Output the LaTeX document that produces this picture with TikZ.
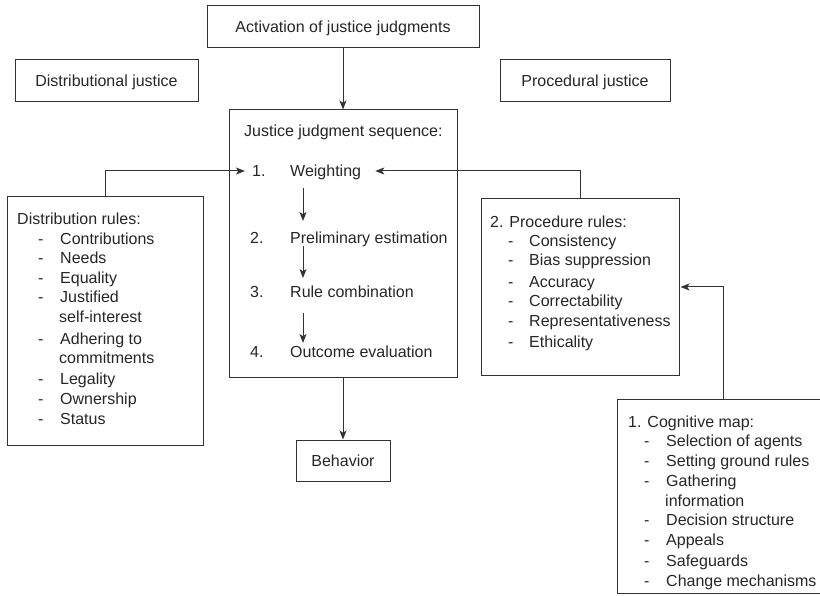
\documentclass[tikz,border=0pt]{standalone}
\usepackage{fontspec}
\setmainfont{Liberation Sans}
\usetikzlibrary{arrows.meta,fit}
\definecolor{ink}{HTML}{262626}
\definecolor{linec}{HTML}{333333}
\tikzset{
  box/.style={draw=linec, line width=1pt, inner sep=0pt},
  lbl/.style={font=\fontsize{16}{20}\selectfont, text=ink, anchor=west, inner sep=0pt, text height=12pt, text depth=1pt},
  cbox/.style={box, font=\fontsize{16}{20}\selectfont, text=ink, text height=12pt, text depth=1pt},
  arr/.style={draw=linec, line width=1pt, -{Stealth[length=9pt,width=7pt,inset=2.2pt]}},
}
\begin{document}
\begin{tikzpicture}[x=1pt,y=-1pt]
\useasboundingbox (0,0) rectangle (820,596);
% single-line boxes
\node[cbox, minimum width=272pt, minimum height=42pt] (act) at (343,27) {Activation of justice judgments};
\node[cbox, minimum width=183pt, minimum height=42pt] (distj) at (106.5,81) {Distributional justice};
\node[cbox, minimum width=170pt, minimum height=42pt] (procj) at (585,81) {Procedural justice};
\node[cbox, minimum width=94pt, minimum height=41pt] (beh) at (343,460.5) {Behavior};
% multi-line boxes
\node[box, fit={(229,110) (457,377)}] (seq) {};
\node[box, fit={(7,197) (203,445)}] (distr) {};
\node[box, fit={(481,199) (679,375)}] (procr) {};
\node[box, fit={(617,399) (829,593)}] (cog) {};
% sequence texts
\node[lbl] (seqt) at (244,131) {Justice judgment sequence:};
\node[lbl] (n1) at (252,171) {1.};
\node[lbl] (w1) at (290,171) {Weighting};
\node[lbl] (n2) at (250,238) {2.};
\node[lbl] (w2) at (290,238) {Preliminary estimation};
\node[lbl] (n3) at (250,292) {3.};
\node[lbl] (w3) at (290,292) {Rule combination};
\node[lbl] (n4) at (250,352) {4.};
\node[lbl] (w4) at (290,352) {Outcome evaluation};
% distribution rules
\node[lbl] (dr0) at (17,219) {Distribution rules:};
\foreach \y/\t [count=\i] in {239/Contributions,258/Needs,278/Equality,297/Justified,339/Adhering to,379/Legality,399/Ownership,419/Status}{
  \node[lbl] (drd\i) at (38,\y) {-};
  \node[lbl] (dr\i) at (60,\y) {\t};
}
\node[lbl] (drx1) at (59,317) {self-interest};
\node[lbl] (drx2) at (59,358) {commitments};
% procedure rules
\node[lbl] (pr0) at (490,222) {2. Procedure rules:};
\foreach \y/\t [count=\i] in {241/Consistency,260/Bias suppression,282/Accuracy,301/Correctability,321/Representativeness,342/Ethicality}{
  \node[lbl] (prd\i) at (508,\y) {-};
  \node[lbl] (pr\i) at (529,\y) {\t};
}
% cognitive map
\node[lbl] (cm0) at (628,422) {1. Cognitive map:};
\foreach \y/\t [count=\i] in {441/Selection of agents,461/Setting ground rules,481/Gathering,520/Decision structure,540/Appeals,561/Safeguards,581/Change mechanisms}{
  \node[lbl] (cmd\i) at (644,\y) {-};
  \node[lbl] (cm\i) at (666,\y) {\t};
}
\node[lbl] (cmx) at (665,501) {information};
% connectors
\draw[arr] (act.south) -- (seq.north);
\draw[arr] (seq.south) -- (beh.north);
\draw[arr, shorten >=7pt] (distr.north) |- (n1.west);
\draw[arr, shorten >=14pt] (procr.north) |- (w1.east);
\draw[arr, shorten >=1pt] (cog.north) |- (procr.east);
\coordinate (s1a) at (303,188); \coordinate (s1b) at (303,221);
\coordinate (s2a) at (303,246); \coordinate (s2b) at (303,278);
\coordinate (s3a) at (303,313); \coordinate (s3b) at (303,343);
\draw[arr] (s1a) -- (s1b);
\draw[arr] (s2a) -- (s2b);
\draw[arr] (s3a) -- (s3b);
\end{tikzpicture}
\end{document}
